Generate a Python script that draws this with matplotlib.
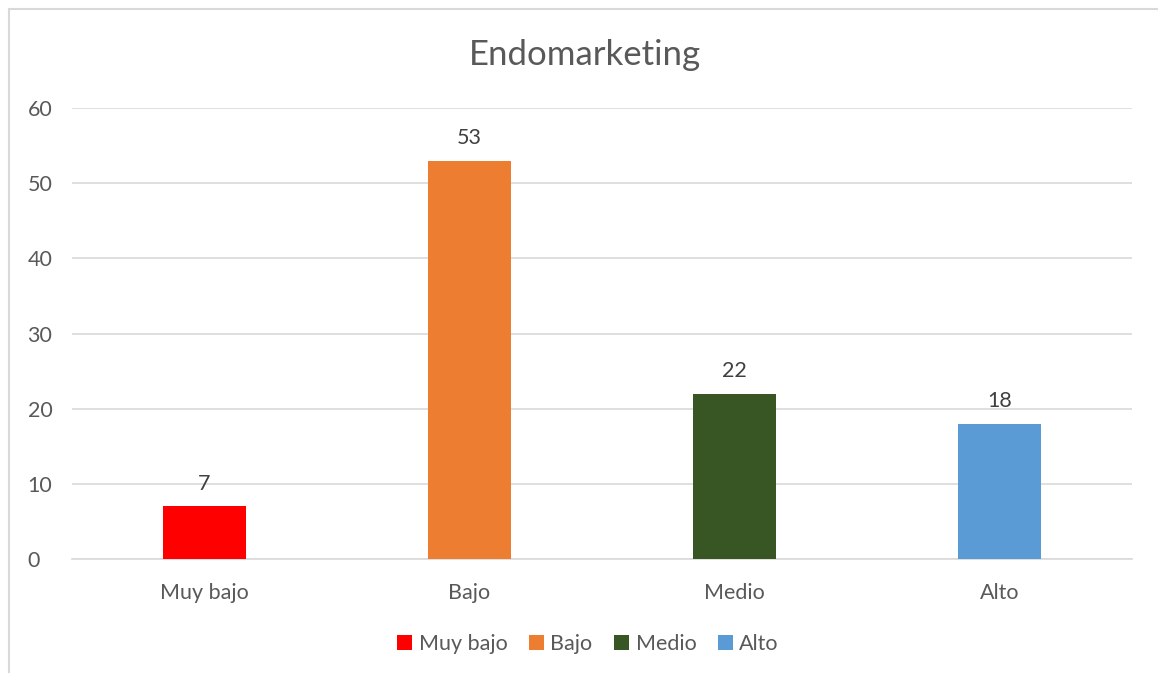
import matplotlib
matplotlib.use('Agg')
import matplotlib.pyplot as plt
from matplotlib.patches import Rectangle, Patch

plt.rcParams['font.family'] = ['Lato', 'DejaVu Sans']

categories = ['Muy bajo', 'Bajo', 'Medio', 'Alto']
values = [7, 53, 22, 18]
colors = ['#FF0000', '#ED7D31', '#375623', '#5B9BD5']
yticks = [0, 10, 20, 30, 40, 50, 60]

TXT = '#595959'
GRID = '#D9D9D9'

fig = plt.figure(figsize=(11.58, 6.73), dpi=100)
fig.patches.append(Rectangle((9 / 1158, -0.05), 1.2, (673 - 9) / 673 + 0.05,
                             transform=fig.transFigure, fill=False,
                             edgecolor='#D9D9D9', linewidth=1.5))

ax = fig.add_axes([72 / 1158, (673 - 559) / 673, (1132 - 72) / 1158, (559 - 108) / 673])
x = range(len(categories))
bars = ax.bar(x, values, width=0.315, color=colors, zorder=3)
for xi, v in zip(x, values):
    ax.annotate(str(v), (xi, v), xytext=(0, 9), textcoords='offset points',
                ha='center', va='bottom', fontsize=15.5, color='#404040')

ax.set_xlim(-0.5, 3.5)
ax.set_ylim(0, 60)
ax.set_yticks(yticks)
ax.set_xticks(list(x))
ax.set_xticklabels(categories)
ax.tick_params(axis='both', length=0, labelsize=15.5, labelcolor=TXT)
ax.tick_params(axis='x', pad=17)
ax.tick_params(axis='y', pad=32)
for lab in ax.get_yticklabels():
    lab.set_horizontalalignment('left')
ax.grid(axis='y', color=GRID, linewidth=1.2, zorder=0)
for s in ['top', 'right', 'left']:
    ax.spines[s].set_visible(False)
ax.spines['bottom'].set_color(GRID)
ax.spines['bottom'].set_linewidth(1.2)

fig.text(585 / 1158, 1 - 55 / 673, 'Endomarketing', ha='center', va='center',
         fontsize=25, color=TXT)

handles = [Patch(facecolor=c, label=l) for c, l in zip(colors, categories)]
fig.legend(handles=handles, loc='center', bbox_to_anchor=(588 / 1158, 1 - 644 / 673),
           ncol=4, frameon=False, fontsize=15.5, labelcolor=TXT,
           handlelength=0.7, handleheight=0.7, handletextpad=0.3, columnspacing=1.0)

fig.savefig('out.png', dpi=100, facecolor='white')
